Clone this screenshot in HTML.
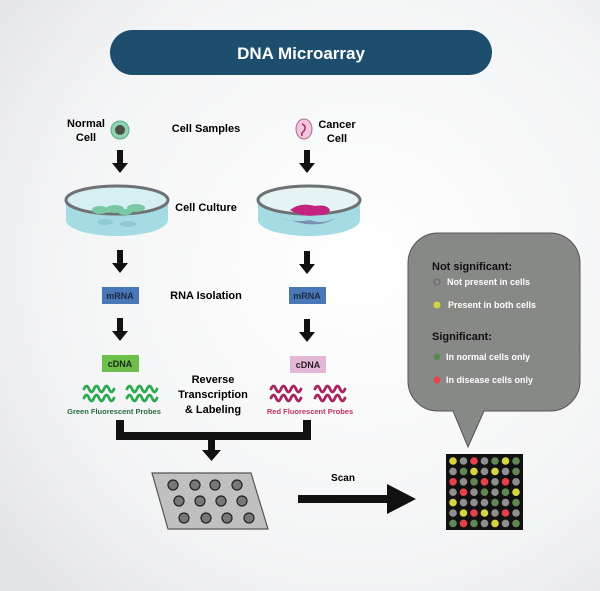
<!DOCTYPE html>
<html><head><style>body{margin:0;background:#fff}svg{display:block}text{font-family:"Liberation Sans",sans-serif;font-weight:bold}.Y{fill:#d6d43f}.G{fill:#8f8f8f}.R{fill:#e6414b}.N{fill:#5f8653}</style></head><body>
<svg width="600" height="591" viewBox="0 0 600 591">
<defs><radialGradient id="bg" cx="0.6" cy="0.45" r="0.75"><stop offset="0" stop-color="#ffffff"/><stop offset="0.7" stop-color="#f3f4f5"/><stop offset="1" stop-color="#e4e5e7"/></radialGradient></defs>
<rect width="600" height="591" fill="url(#bg)"/>
<rect x="110" y="30" width="382" height="45" rx="22.5" fill="#1d4e6e"/>
<text x="301" y="59" font-size="17" fill="#fff" text-anchor="middle">DNA Microarray</text>
<text x="86" y="127" font-size="11" text-anchor="middle">Normal</text><text x="86" y="141" font-size="11" text-anchor="middle">Cell</text>
<circle cx="120" cy="130" r="9" fill="#8fd4b0" stroke="#5aa985"/><circle cx="120" cy="130" r="5" fill="#4d4d48"/>
<text x="206" y="132" font-size="11" text-anchor="middle">Cell Samples</text>
<ellipse cx="304" cy="129" rx="8" ry="10" fill="#f2c6df" stroke="#a36b8f"/><path d="M302 124 q5 2 2 7 q-3 2 -2 5" stroke="#a0306a" fill="none" stroke-width="1.5"/>
<text x="337" y="128" font-size="11" text-anchor="middle">Cancer</text><text x="337" y="142" font-size="11" text-anchor="middle">Cell</text>
<g fill="#111">
<path d="M117 150h6v13h5l-8 10-8-10h5z"/><path d="M304 150h6v13h5l-8 10-8-10h5z"/>
<path d="M117 250h6v13h5l-8 10-8-10h5z"/><path d="M304 251h6v13h5l-8 10-8-10h5z"/>
<path d="M117 318h6v13h5l-8 10-8-10h5z"/><path d="M304 319h6v13h5l-8 10-8-10h5z"/>
</g>
<g>
<path d="M66 200 v20 a51 16 0 0 0 102 0 v-20z" fill="#a5dbe3"/>
<ellipse cx="117" cy="200" rx="51" ry="14" fill="#d6eff3" stroke="#6f7275" stroke-width="3"/>
<ellipse cx="100" cy="210" rx="8" ry="4" fill="#79c9a5"/><ellipse cx="115" cy="209" rx="9" ry="4" fill="#79c9a5"/><ellipse cx="136" cy="208" rx="9" ry="4" fill="#79c9a5"/><ellipse cx="125" cy="212" rx="7" ry="3" fill="#79c9a5"/>
<ellipse cx="105" cy="222" rx="8" ry="3" fill="#8ccbd3"/><ellipse cx="128" cy="224" rx="8" ry="3" fill="#8ccbd3"/>
<path d="M258 200 v20 a51 16 0 0 0 102 0 v-20z" fill="#a5dbe3"/>
<ellipse cx="309" cy="200" rx="51" ry="14" fill="#e6f4f6" stroke="#6f7275" stroke-width="3"/>
<path d="M290 210 q10 -8 25 -4 q12 -2 15 4 q-2 6 -12 5 q-15 3 -28 -5z" fill="#c4237f"/>
<path d="M280 218 q15 5 30 2 q12 5 25 -2 q-10 8 -30 6z" fill="#7d8fb3"/>
</g>
<text x="206" y="211" font-size="11" text-anchor="middle">Cell Culture</text>
<rect x="102" y="287" width="37" height="17" fill="#4a78b7"/><text x="120" y="299" font-size="9" text-anchor="middle" fill="#1a2a44">mRNA</text>
<rect x="289" y="287" width="37" height="17" fill="#4a78b7"/><text x="307" y="299" font-size="9" text-anchor="middle" fill="#1a2a44">mRNA</text>
<text x="206" y="299" font-size="11" text-anchor="middle">RNA Isolation</text>
<rect x="102" y="355" width="37" height="17" fill="#6cbf4a"/><text x="120" y="367" font-size="9" text-anchor="middle" fill="#1a2a14">cDNA</text>
<rect x="290" y="356" width="36" height="17" fill="#e2b8d6"/><text x="308" y="368" font-size="9" text-anchor="middle" fill="#2a1a24">cDNA</text>
<g fill="none" stroke-width="2.8" stroke-linecap="round">
<g stroke="#2daa4f"><path d="M84 389 q2.5 -6 5 0 t5 0 t5 0 t5 0 t5 0 t5 0"/><path d="M84 398 q2.5 -6 5 0 t5 0 t5 0 t5 0 t5 0 t5 0"/><path d="M127 389 q2.5 -6 5 0 t5 0 t5 0 t5 0 t5 0 t5 0"/><path d="M127 398 q2.5 -6 5 0 t5 0 t5 0 t5 0 t5 0 t5 0"/></g>
<g stroke="#a8235f"><path d="M271 389 q2.5 -6 5 0 t5 0 t5 0 t5 0 t5 0 t5 0"/><path d="M271 398 q2.5 -6 5 0 t5 0 t5 0 t5 0 t5 0 t5 0"/><path d="M315 389 q2.5 -6 5 0 t5 0 t5 0 t5 0 t5 0 t5 0"/><path d="M315 398 q2.5 -6 5 0 t5 0 t5 0 t5 0 t5 0 t5 0"/></g>
</g>
<text x="114" y="414" font-size="7.5" text-anchor="middle" fill="#2b6b3e">Green Fluorescent Probes</text>
<text x="310" y="414" font-size="7.5" text-anchor="middle" fill="#c2305f">Red Fluorescent Probes</text>
<text x="213" y="383" font-size="11" text-anchor="middle">Reverse</text>
<text x="213" y="398" font-size="11" text-anchor="middle">Transcription</text>
<text x="213" y="413" font-size="11" text-anchor="middle">&amp; Labeling</text>
<g fill="#111"><rect x="116" y="420" width="8" height="20"/><rect x="303" y="420" width="8" height="20"/><rect x="116" y="432" width="195" height="8"/><path d="M208 440h7v10h6l-9.5 11-9.5-11h6z"/></g>
<polygon points="152,473 251,473 268,529 168,529" fill="#bfc0bf" stroke="#555" stroke-width="1.2"/>
<g fill="#777" stroke="#222" stroke-width="1.2">
<circle cx="173" cy="485" r="5"/><circle cx="195" cy="485" r="5"/><circle cx="215" cy="485" r="5"/><circle cx="237" cy="485" r="5"/>
<circle cx="179" cy="501" r="5"/><circle cx="200" cy="501" r="5"/><circle cx="221" cy="501" r="5"/><circle cx="242" cy="501" r="5"/>
<circle cx="184" cy="518" r="5"/><circle cx="206" cy="518" r="5"/><circle cx="227" cy="518" r="5"/><circle cx="249" cy="518" r="5"/>
</g>
<text x="343" y="481" font-size="10" text-anchor="middle">Scan</text>
<path d="M298 495h89v-11l29 15-29 15v-11h-89z" fill="#111"/>
<path d="M438 233 h112 a30 30 0 0 1 30 30 v118 a30 30 0 0 1 -30 30 h-66 l-16 36 l-15 -36 h-15 a30 30 0 0 1 -30 -30 v-118 a30 30 0 0 1 30 -30z" fill="#878986" stroke="#555" stroke-width="1"/>
<text x="432" y="270" font-size="11" fill="#111">Not significant:</text>
<circle cx="437" cy="282" r="3" fill="#8a8a88" stroke="#666"/><text x="447" y="285" font-size="9" fill="#fff">Not present in cells</text>
<circle cx="437" cy="305" r="3.5" fill="#d6d23a"/><text x="448" y="308" font-size="9" fill="#fff">Present in both cells</text>
<text x="432" y="340" font-size="11" fill="#111">Significant:</text>
<circle cx="437" cy="357" r="3.5" fill="#5f8653"/><text x="446" y="360" font-size="9" fill="#fff">In normal cells only</text>
<circle cx="437" cy="380" r="3.5" fill="#e3464e"/><text x="446" y="383" font-size="9" fill="#fff">In disease cells only</text>
<rect x="446" y="454" width="77" height="76" fill="#111"/>
<g>
<circle cx="453" cy="461" r="3.8" class="Y"/><circle cx="463.5" cy="461" r="3.8" class="G"/><circle cx="474" cy="461" r="3.8" class="R"/><circle cx="484.5" cy="461" r="3.8" class="G"/><circle cx="495" cy="461" r="3.8" class="N"/><circle cx="505.5" cy="461" r="3.8" class="Y"/><circle cx="516" cy="461" r="3.8" class="N"/>
<circle cx="453" cy="471.4" r="3.8" class="G"/><circle cx="463.5" cy="471.4" r="3.8" class="N"/><circle cx="474" cy="471.4" r="3.8" class="Y"/><circle cx="484.5" cy="471.4" r="3.8" class="G"/><circle cx="495" cy="471.4" r="3.8" class="Y"/><circle cx="505.5" cy="471.4" r="3.8" class="G"/><circle cx="516" cy="471.4" r="3.8" class="N"/>
<circle cx="453" cy="481.8" r="3.8" class="R"/><circle cx="463.5" cy="481.8" r="3.8" class="G"/><circle cx="474" cy="481.8" r="3.8" class="N"/><circle cx="484.5" cy="481.8" r="3.8" class="R"/><circle cx="495" cy="481.8" r="3.8" class="G"/><circle cx="505.5" cy="481.8" r="3.8" class="R"/><circle cx="516" cy="481.8" r="3.8" class="G"/>
<circle cx="453" cy="492.2" r="3.8" class="G"/><circle cx="463.5" cy="492.2" r="3.8" class="R"/><circle cx="474" cy="492.2" r="3.8" class="G"/><circle cx="484.5" cy="492.2" r="3.8" class="N"/><circle cx="495" cy="492.2" r="3.8" class="G"/><circle cx="505.5" cy="492.2" r="3.8" class="N"/><circle cx="516" cy="492.2" r="3.8" class="Y"/>
<circle cx="453" cy="502.6" r="3.8" class="Y"/><circle cx="463.5" cy="502.6" r="3.8" class="G"/><circle cx="474" cy="502.6" r="3.8" class="G"/><circle cx="484.5" cy="502.6" r="3.8" class="G"/><circle cx="495" cy="502.6" r="3.8" class="N"/><circle cx="505.5" cy="502.6" r="3.8" class="G"/><circle cx="516" cy="502.6" r="3.8" class="N"/>
<circle cx="453" cy="513" r="3.8" class="G"/><circle cx="463.5" cy="513" r="3.8" class="Y"/><circle cx="474" cy="513" r="3.8" class="R"/><circle cx="484.5" cy="513" r="3.8" class="Y"/><circle cx="495" cy="513" r="3.8" class="G"/><circle cx="505.5" cy="513" r="3.8" class="R"/><circle cx="516" cy="513" r="3.8" class="G"/>
<circle cx="453" cy="523.4" r="3.8" class="N"/><circle cx="463.5" cy="523.4" r="3.8" class="R"/><circle cx="474" cy="523.4" r="3.8" class="N"/><circle cx="484.5" cy="523.4" r="3.8" class="G"/><circle cx="495" cy="523.4" r="3.8" class="Y"/><circle cx="505.5" cy="523.4" r="3.8" class="G"/><circle cx="516" cy="523.4" r="3.8" class="N"/>
</g>
</svg>
</body></html>
